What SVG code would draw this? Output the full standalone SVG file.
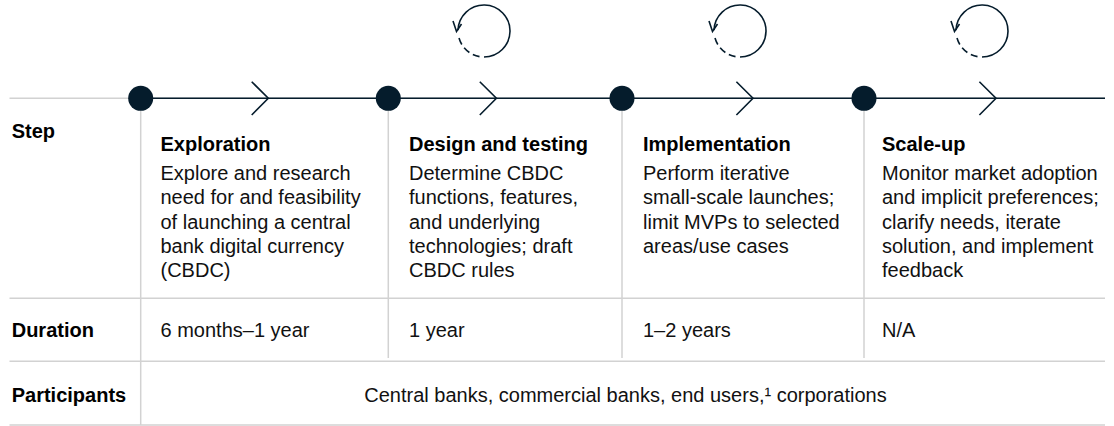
<svg xmlns="http://www.w3.org/2000/svg" width="1114" height="426" viewBox="0 0 1114 426">
<style>
  .t{font-family:"Liberation Sans",Arial,Helvetica,sans-serif;font-size:20px;fill:#111}
  .b{font-weight:700;fill:#000}
  .grid{stroke:#d2d2d2;stroke-width:1.5;fill:none}
  .ink{stroke:#051c2c;stroke-width:1.6;fill:none;stroke-linecap:butt}
  .dot{fill:#051c2c}
</style>
<defs>
  <g id="cycle">
    <path class="ink" d="M0,26 A26,26 0 1 0 -25.98,-0.9"/>
    <path class="ink" d="M-4.5,25.6 A26,26 0 0 1 -25.1,6.7" stroke-dasharray="7 4"/>
    <polyline class="ink" points="-31,-10 -27.5,0.5 -22.5,-7"/>
  </g>
</defs>
<rect width="1114" height="426" fill="#fff"/>

<g id="table-grid">
  <line class="grid" x1="9.5" y1="298.3" x2="1105" y2="298.3"/>
  <line class="grid" x1="9.5" y1="361.3" x2="1105" y2="361.3"/>
  <line class="grid" x1="9.5" y1="425" x2="1105" y2="425"/>
  <line class="grid" x1="140.7" y1="98" x2="140.7" y2="425"/>
  <line class="grid" x1="388.3" y1="98" x2="388.3" y2="358"/>
  <line class="grid" x1="622" y1="98" x2="622" y2="358"/>
  <line class="grid" x1="864" y1="98" x2="864" y2="358"/>
</g>

<g id="connectors">
  <line class="grid" x1="9.5" y1="98.3" x2="1105" y2="98.3" stroke-width="2.6"/>
  <line class="ink" x1="141" y1="98.3" x2="1105" y2="98.3"/>
  <polyline class="ink" points="251.7,81.7 268.3,98.3 251.7,115"/>
  <polyline class="ink" points="479.8,81.7 496.4,98.3 479.8,115"/>
  <polyline class="ink" points="736.4,81.7 753,98.3 736.4,115"/>
  <polyline class="ink" points="979.4,81.7 996,98.3 979.4,115"/>
  <use href="#cycle" x="484" y="31"/>
  <use href="#cycle" x="740" y="31"/>
  <use href="#cycle" x="982" y="31"/>
</g>

<g id="row-labels">
  <text class="t b" x="11.7" y="138.3">Step</text>
  <text class="t b" x="11.7" y="337.3">Duration</text>
  <text class="t b" x="11.7" y="401.5">Participants</text>
</g>

<g id="stage-exploration">
  <circle class="dot" cx="140.7" cy="98.3" r="12.5"/>
  <text class="t b" x="160.5" y="151">Exploration</text>
  <text class="t" x="160.5" y="180">
    <tspan x="160.5" y="180">Explore and research</tspan>
    <tspan x="160.5" y="204.3">need for and feasibility</tspan>
    <tspan x="160.5" y="228.6">of launching a central</tspan>
    <tspan x="160.5" y="252.9">bank digital currency</tspan>
    <tspan x="160.5" y="277.2">(CBDC)</tspan>
  </text>
  <text class="t" x="160.5" y="337.3">6 months–1 year</text>
</g>

<g id="stage-design">
  <circle class="dot" cx="388.3" cy="98.3" r="12.5"/>
  <text class="t b" x="409" y="151">Design and testing</text>
  <text class="t" x="409" y="180">
    <tspan x="409" y="180">Determine CBDC</tspan>
    <tspan x="409" y="204.3">functions, features,</tspan>
    <tspan x="409" y="228.6">and underlying</tspan>
    <tspan x="409" y="252.9">technologies; draft</tspan>
    <tspan x="409" y="277.2">CBDC rules</tspan>
  </text>
  <text class="t" x="409" y="337.3">1 year</text>
</g>

<g id="stage-implementation">
  <circle class="dot" cx="622" cy="98.3" r="12.5"/>
  <text class="t b" x="643" y="151">Implementation</text>
  <text class="t" x="643" y="180">
    <tspan x="643" y="180">Perform iterative</tspan>
    <tspan x="643" y="204.3">small-scale launches;</tspan>
    <tspan x="643" y="228.6">limit MVPs to selected</tspan>
    <tspan x="643" y="252.9">areas/use cases</tspan>
  </text>
  <text class="t" x="643" y="337.3">1–2 years</text>
</g>

<g id="stage-scaleup">
  <circle class="dot" cx="864" cy="98.3" r="12.5"/>
  <text class="t b" x="882" y="151">Scale-up</text>
  <text class="t" x="882" y="180">
    <tspan x="882" y="180">Monitor market adoption</tspan>
    <tspan x="882" y="204.3">and implicit preferences;</tspan>
    <tspan x="882" y="228.6">clarify needs, iterate</tspan>
    <tspan x="882" y="252.9">solution, and implement</tspan>
    <tspan x="882" y="277.2">feedback</tspan>
  </text>
  <text class="t" x="882" y="337.3">N/A</text>
</g>

<g id="participants">
  <text class="t" x="625.5" y="401.5" text-anchor="middle">Central banks, commercial banks, end users,¹ corporations</text>
</g>
</svg>
